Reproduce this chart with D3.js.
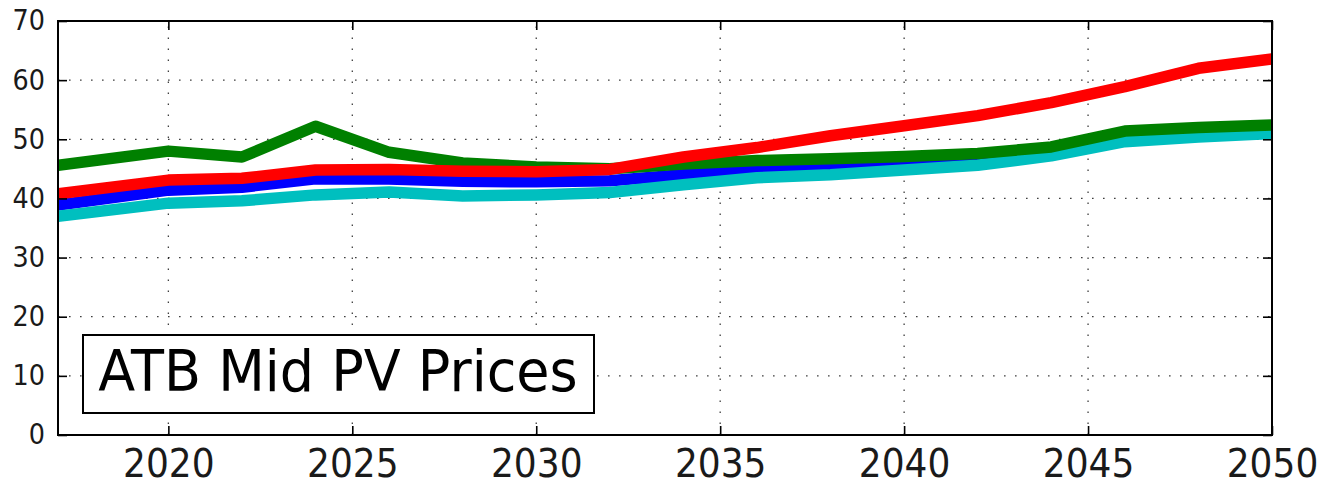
<!DOCTYPE html>
<html>
<head>
<meta charset="utf-8">
<script src="https://cdn.jsdelivr.net/npm/d3@7"></script>
<style>
  html, body { margin: 0; padding: 0; background: #fff; }
  svg { display: block; }
</style>
</head>
<body>
<svg id="chart" width="1336" height="482"></svg>
<script>
// Modelled prices by year (ATB mid case), one array per scenario
const years = [2017, 2020, 2022, 2024, 2026, 2028, 2030, 2032, 2034, 2036, 2038, 2040, 2042, 2044, 2046, 2048, 2050];
const redSeries   = [40.8, 43.1, 43.4, 44.8, 44.9, 44.6, 44.5, 44.9, 47.0, 48.6, 50.6, 52.3, 54.0, 56.2, 58.9, 62.0, 63.6];
const blueSeries  = [38.9, 41.4, 41.9, 43.3, 43.3, 42.9, 42.8, 43.0, 44.0, 44.8, 45.2, 45.9, 46.5, 47.8, 49.9, 50.8, 51.3];
const greenSeries = [45.6, 48.0, 47.0, 52.2, 47.8, 46.0, 45.3, 45.0, 45.8, 46.4, 46.7, 47.1, 47.6, 48.7, 51.4, 52.0, 52.4];
const cyanSeries  = [37.0, 39.2, 39.6, 40.6, 41.1, 40.4, 40.6, 41.0, 42.3, 43.5, 44.0, 44.8, 45.6, 47.2, 49.6, 50.4, 51.0];

const xTicks = [2020, 2025, 2030, 2035, 2040, 2045, 2050];
const yTicks = [0, 10, 20, 30, 40, 50, 60, 70];
const titleText = "ATB Mid PV Prices";

const svg = d3.select("#chart");
const margin = { left: 58, right: 64, top: 21, bottom: 47 };
const W = 1336, H = 482;
const x0 = margin.left, x1 = W - margin.right;
const y0 = H - margin.bottom, y1 = margin.top;

const x = d3.scaleLinear().domain([2017, 2050]).range([x0, x1]);
const y = d3.scaleLinear().domain([0, 70]).range([y0, y1]);

const font = "'DejaVu Sans', sans-serif";
const textStretch = 1.1; // glyphs are drawn slightly taller than wide

// dotted grid
const grid = svg.append("g");
grid.selectAll("line.gx").data(xTicks).join("line")
  .attr("x1", d => x(d)).attr("x2", d => x(d))
  .attr("y1", y0).attr("y2", y1)
  .attr("stroke", "#000").attr("stroke-width", 1.3)
  .attr("stroke-dasharray", "1.6,9.4").attr("opacity", 0.75);
grid.selectAll("line.gy").data(yTicks.slice(1, -1)).join("line")
  .attr("x1", x0).attr("x2", x1)
  .attr("y1", d => y(d)).attr("y2", d => y(d))
  .attr("stroke", "#000").attr("stroke-width", 1.3)
  .attr("stroke-dasharray", "1.6,9.4").attr("opacity", 0.75);

// series lines
const line = d3.line().x((d, i) => x(years[i])).y(d => y(d));
const seriesList = [
  { values: blueSeries,  color: "#0000ff", width: 11.5 },
  { values: cyanSeries,  color: "#00bfbf", width: 11.5 },
  { values: greenSeries, color: "#008000", width: 11.5 },
  { values: redSeries,   color: "#ff0000", width: 11.5 }
];
const plot = svg.append("g");
plot.append("clipPath").attr("id", "clip").append("rect")
  .attr("x", x0).attr("y", y1).attr("width", x1 - x0).attr("height", y0 - y1);
plot.selectAll("path").data(seriesList).join("path")
  .attr("clip-path", "url(#clip)")
  .attr("d", d => line(d.values))
  .attr("fill", "none")
  .attr("stroke", d => d.color)
  .attr("stroke-width", d => d.width)
  .attr("stroke-linejoin", "round");

// axes (ticks point inward, on all four sides)
const tickLen = 9;
const axB = svg.append("g").attr("transform", `translate(0,${y0})`)
  .call(d3.axisBottom(x).tickValues(xTicks).tickFormat(d3.format("d")).tickSizeInner(-tickLen).tickSizeOuter(0).tickPadding(12.5));
const axT = svg.append("g").attr("transform", `translate(0,${y1})`)
  .call(d3.axisTop(x).tickValues(xTicks).tickFormat("").tickSizeInner(-tickLen).tickSizeOuter(0));
const axL = svg.append("g").attr("transform", `translate(${x0},0)`)
  .call(d3.axisLeft(y).tickValues(yTicks).tickFormat(d3.format("d")).tickSizeInner(-tickLen).tickSizeOuter(0).tickPadding(13));
const axR = svg.append("g").attr("transform", `translate(${x1},0)`)
  .call(d3.axisRight(y).tickValues(yTicks).tickFormat("").tickSizeInner(-tickLen).tickSizeOuter(0));

[axB, axT, axL, axR].forEach(a => {
  a.select(".domain").remove();
  a.selectAll(".tick line").attr("stroke", "#000").attr("stroke-width", 1.6);
});
axB.selectAll("text").attr("font-family", font).attr("font-size", 36).attr("fill", "#1a1a1a")
  .attr("dy", "0.71em").attr("transform", `scale(1,${textStretch})`);
axL.selectAll("text").attr("font-family", font).attr("font-size", 25.5).attr("fill", "#1a1a1a")
  .attr("transform", `scale(1,${textStretch})`);

// frame
svg.append("rect")
  .attr("x", x0).attr("y", y1).attr("width", x1 - x0).attr("height", y0 - y1)
  .attr("fill", "none").attr("stroke", "#000").attr("stroke-width", 2);

// title box
const box = svg.append("g");
box.append("rect")
  .attr("x", 83).attr("y", 335).attr("width", 511).attr("height", 78)
  .attr("fill", "#fff").attr("stroke", "#000").attr("stroke-width", 2);
box.append("text")
  .attr("transform", `translate(338,391) scale(1,1.07)`)
  .attr("text-anchor", "middle")
  .attr("font-family", font).attr("font-size", 54)
  .attr("fill", "#000")
  .text(titleText);
</script>
</body>
</html>
